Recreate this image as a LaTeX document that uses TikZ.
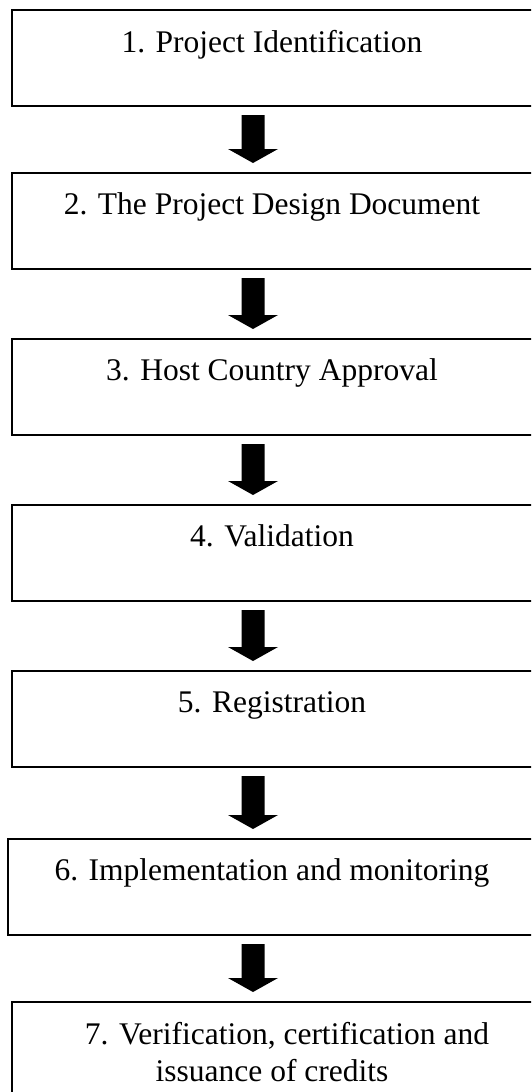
\documentclass[tikz,border=0pt]{standalone}
\usepackage{fontspec}
\setmainfont{Liberation Serif}
\usetikzlibrary{calc}
\tikzset{
  stepbox/.style={draw=black, line width=2pt, rectangle, anchor=north west,
    minimum width=530pt, minimum height=96pt, inner sep=0pt, outer sep=0pt},
  steptext/.style={anchor=base, inner sep=0pt, align=center,
    font=\fontsize{31.5}{37}\selectfont},
  arrowfill/.style={fill=black}
}
\newcommand\flowarrow[2]{%
  \fill[arrowfill] let \p1=(#1.south), \p2=(#2.north) in
    (241.5pt,\y1-9pt) -- (264.5pt,\y1-9pt) -- (264.5pt,\y2+24pt) --
    (278pt,\y2+24pt) -- (253pt,\y2+10pt) -- (228pt,\y2+24pt) --
    (241.5pt,\y2+24pt) -- cycle;}
\begin{document}
\begin{tikzpicture}
\useasboundingbox (0,0) rectangle (531pt,-1092pt);
\clip (0,0) rectangle (531pt,-1092pt);
\fill[white] (0,0) rectangle (531pt,-1092pt);
\node[stepbox] (b1) at (12pt,-10pt) {};
\node[stepbox] (b2) at (12pt,-173pt) {};
\node[stepbox] (b3) at (12pt,-339pt) {};
\node[stepbox] (b4) at (12pt,-505pt) {};
\node[stepbox] (b5) at (12pt,-671pt) {};
\node[stepbox] (b6) at (8pt,-839pt) {};
\node[stepbox] (b7) at (12pt,-1002pt) {};
\node[steptext] (t1) at ([xshift=260pt,yshift=-42pt]b1.north west) {1. Project Identification};
\node[steptext] (t2) at ([xshift=260pt,yshift=-41pt]b2.north west) {2. The Project Design Document};
\node[steptext] (t3) at ([xshift=260pt,yshift=-41pt]b3.north west) {3. Host Country Approval};
\node[steptext] (t4) at ([xshift=260pt,yshift=-41pt]b4.north west) {4. Validation};
\node[steptext] (t5) at ([xshift=260pt,yshift=-41pt]b5.north west) {5. Registration};
\node[steptext] (t6) at ([xshift=264pt,yshift=-41pt]b6.north west) {6. Implementation and monitoring};
\node[steptext] (t7) at ([xshift=260pt,yshift=-79pt]b7.north west) {\hspace*{30pt}7. Verification, certification and\\issuance of credits};
\flowarrow{b1}{b2}
\flowarrow{b2}{b3}
\flowarrow{b3}{b4}
\flowarrow{b4}{b5}
\flowarrow{b5}{b6}
\flowarrow{b6}{b7}
\end{tikzpicture}
\end{document}
